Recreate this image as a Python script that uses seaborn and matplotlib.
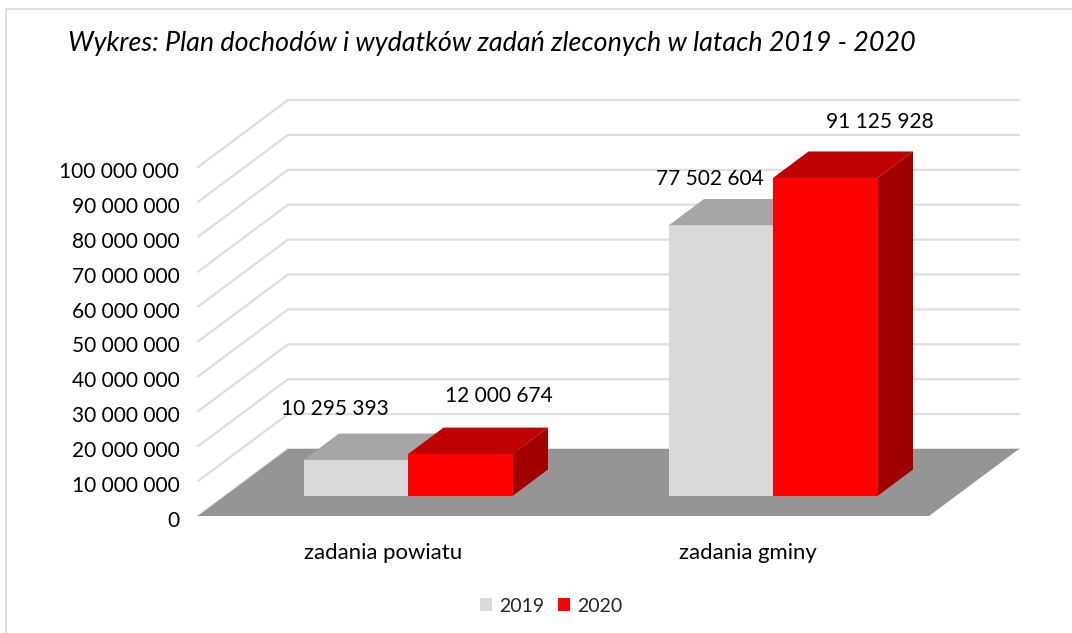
import matplotlib
matplotlib.use("Agg")
import matplotlib.pyplot as plt
from matplotlib.lines import Line2D
from matplotlib.transforms import ScaledTranslation
import pandas as pd
import seaborn as sns

# data
categories = ["zadania powiatu", "zadania gminy"]
years = ["2019", "2020"]
values_2019 = [10295393, 77502604]
values_2020 = [12000674, 91125928]
y_ticks = list(range(0, 100000001, 10000000))

# layout, in pixels of the 1072x633 picture
W, H = 1072, 633
LEFT, RIGHT, BOTTOM, TOP = 198, 929, 516, 167
GROUP_STEP = 365       # distance between the two groups
FIRST_GROUP = 408      # x of first group centre
WALL_DX, WALL_DY = 90, 67
BAR_DX, BAR_DY = 35.5, 26.5
BAR_LIFT = 20          # bars stand this far behind the front edge of the floor
LABEL_SHIFT = -25      # category labels sit left of the groups
label_offsets = [(-20.5, 51), (39, 58), (-11, 47), (54.5, 56)]

GRID = "#DEDEDE"
FLOOR = "#959595"
colors = {"2019": "#D9D9D9", "2020": "#FF0000"}
tops = {"2019": "#A6A6A6", "2020": "#BF0000"}
sides = {"2019": "#A3A3A3", "2020": "#A00000"}

df = pd.DataFrame({
    "category": categories * 2,
    "year": [years[0]] * 2 + [years[1]] * 2,
    "value": values_2019 + values_2020,
})

sns.set_theme(style="white")
plt.rcParams["font.family"] = ["Lato", "DejaVu Sans"]

fig = plt.figure(figsize=(W / 100, H / 100), dpi=100)
ax = fig.add_axes([LEFT / W, 1 - BOTTOM / H, (RIGHT - LEFT) / W, (BOTTOM - TOP) / H])

sns.barplot(data=df, x="category", y="value", hue="year", order=categories, hue_order=years,
            palette=colors, width=209 / GROUP_STEP, gap=0, saturation=1, linewidth=0, ax=ax)

ax.set_xlim((LEFT - FIRST_GROUP) / GROUP_STEP, (RIGHT - FIRST_GROUP) / GROUP_STEP)
ax.set_ylim(0, y_ticks[-1])
px_x = 1 / GROUP_STEP
px_y = y_ticks[-1] / (BOTTOM - TOP)

# back wall, side wall and floor
x0, x1 = ax.get_xlim()
wx = WALL_DX * px_x
wy = WALL_DY * px_y
for t in y_ticks:
    ax.plot([x0, x0 + wx, x1 + wx], [t, t + wy, t + wy], color=GRID, lw=1.6, clip_on=False, zorder=1)
ax.fill([x0, x0 + wx, x1 + wx, x1], [0, wy, wy, 0], color=FLOOR, lw=0, clip_on=False, zorder=2)

# bars get a top and a side face, computed from what seaborn drew
dx = BAR_DX * px_x
dy = BAR_DY * px_y
base = BAR_LIFT * px_y
bars = []
for i, (year, container) in enumerate(zip(years, ax.containers)):
    z = 3 + i
    for bar in container:
        bar.set_y(base)
        bar.set_zorder(z + 0.5)
        bar.set_clip_on(False)
        xa = bar.get_x()
        xb = xa + bar.get_width()
        yb = base
        yt = base + bar.get_height()
        ax.fill([xa, xa + dx, xb + dx, xb], [yt, yt + dy, yt + dy, yt], color=tops[year], lw=0,
                clip_on=False, zorder=z)
        ax.fill([xb, xb + dx, xb + dx, xb], [yb, yb + dy, yt + dy, yt], color=sides[year], lw=0,
                clip_on=False, zorder=z)
        bars.append(((xa + xb) / 2, yt, bar.get_height()))

# data labels
order = [bars[0], bars[2], bars[1], bars[3]]
for (cx, yt, val), (ox, oy) in zip(order, label_offsets):
    ax.text(cx + ox * px_x, yt + oy * px_y, f"{val:,.0f}".replace(",", " "), ha="center", va="center",
            fontsize=15, color="black", zorder=10, clip_on=False)

# axes
ax.set_yticks(y_ticks)
ax.set_yticklabels([f"{t:,}".replace(",", " ") for t in y_ticks])
ax.set_xticks([i + LABEL_SHIFT * px_x for i in range(len(categories))])
ax.set_xticklabels(categories)
ax.tick_params(axis="y", length=0, pad=13.5, labelsize=15, labelcolor="black")
ax.tick_params(axis="x", length=0, pad=19.5, labelsize=15.9, labelcolor="black")
ax.set_xlabel("")
ax.set_ylabel("")
sns.despine(ax=ax, left=True, bottom=True)
ax.patch.set_alpha(0)

# y labels sit a little below their gridline ends
nudge = ScaledTranslation(0, -3 / 100, fig.dpi_scale_trans)
for lab in ax.get_yticklabels():
    lab.set_transform(lab.get_transform() + nudge)

# legend
handles, labels = ax.get_legend_handles_labels()
fig.legend(handles, labels, loc="center", bbox_to_anchor=(551.5 / W, 1 - 606 / H), ncol=2, frameon=False,
           fontsize=14, handlelength=0.62, handleheight=0.62, handletextpad=0.36, columnspacing=0.72)
ax.get_legend().remove()

# title and outer frame
fig.text(68 / W, 1 - 44 / H, "Wykres: Plan dochodów i wydatków zadań zleconych w latach 2019 - 2020",
         fontsize=19.4, style="italic", ha="left", va="center", color="black")
fig.add_artist(Line2D([6 / W, 6 / W, 1], [0, 1 - 9 / H, 1 - 9 / H], color=GRID, lw=1.4))

fig.savefig("out.png", dpi=100, facecolor="white")
